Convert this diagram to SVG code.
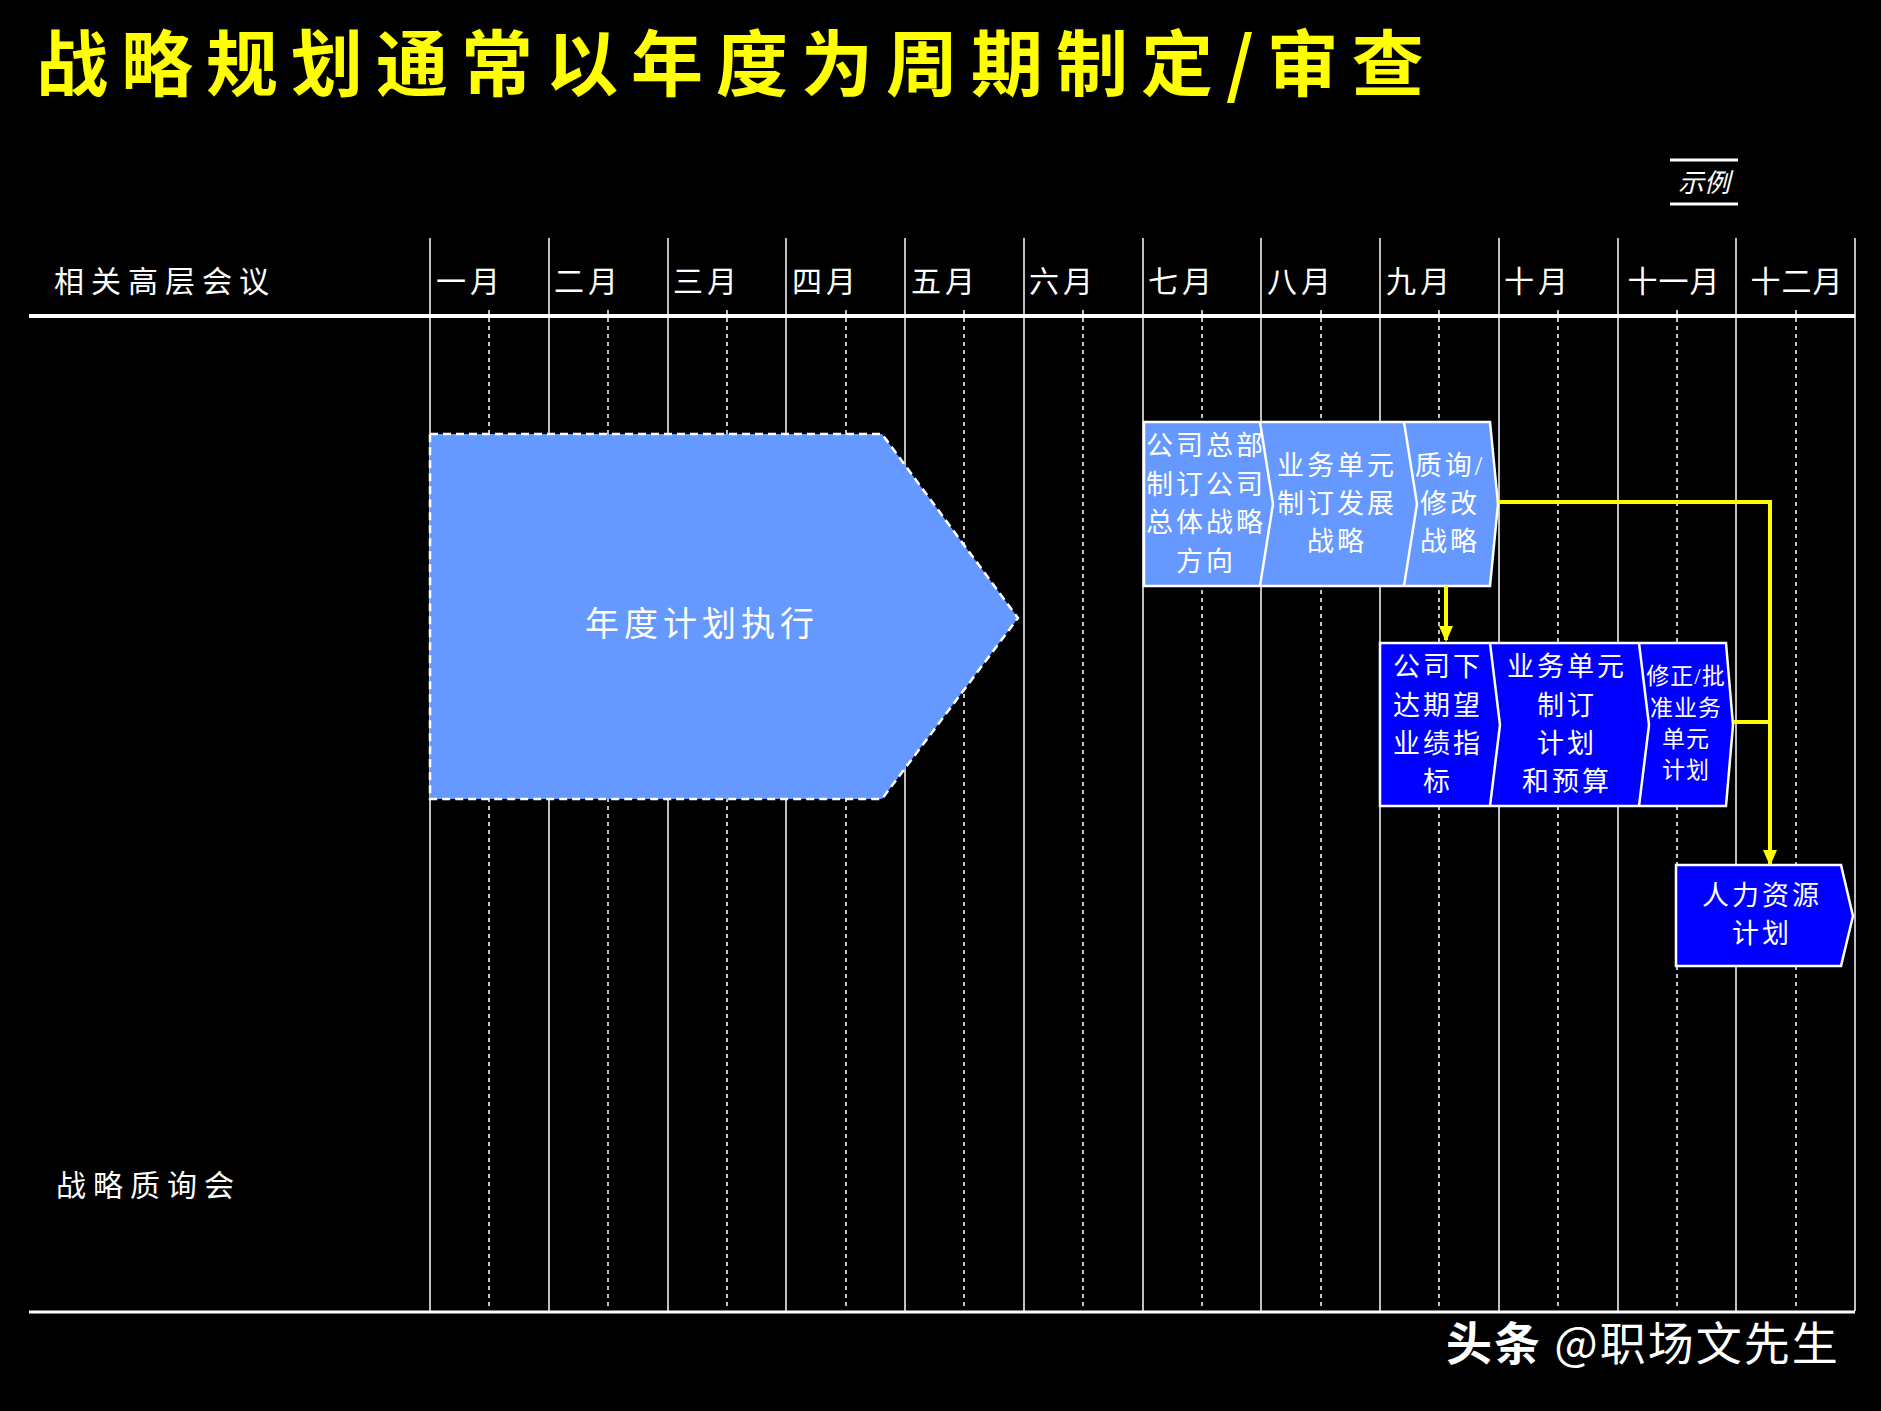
<svg xmlns="http://www.w3.org/2000/svg" width="1881" height="1411" viewBox="0 0 1881 1411">
<defs>
<style>
text{font-family:"Liberation Serif","Noto Sans CJK SC",serif;fill:#fff}
.m{font-size:30px;text-anchor:middle;letter-spacing:4px}
.c{font-size:27px;text-anchor:middle;dominant-baseline:central;letter-spacing:3px}
.s{font-size:23px;text-anchor:middle;dominant-baseline:central;letter-spacing:1px}
.v{stroke:#fff;stroke-width:1.5}
.d{stroke:#fff;stroke-width:1.5;stroke-dasharray:4 4}
.y{stroke:#FFFF00;stroke-width:4;fill:none}
</style>
<marker id="ar" markerWidth="16" markerHeight="16" refX="14" refY="8" orient="auto" markerUnits="userSpaceOnUse" viewBox="0 0 16 16"><path d="M0,1 L16,8 L0,15 z" fill="#FFFF00"/></marker>
</defs>
<rect width="1881" height="1411" fill="#000"/>
<text x="36" y="90" style="font-size:72px;font-weight:bold;fill:#FFFF00;letter-spacing:13px;font-family:'Noto Sans CJK SC',sans-serif">战略规划通常以年度为周期制定/审查</text>
<g id="legend"><line x1="1670" y1="160" x2="1738" y2="160" stroke="#fff" stroke-width="3"/><line x1="1670" y1="204" x2="1738" y2="204" stroke="#fff" stroke-width="3"/><text x="1704" y="192" style="font-size:26px;font-style:italic;text-anchor:middle">示例</text></g>
<g id="grid">
<line class="v" x1="430" y1="238" x2="430" y2="1311"/><line class="v" x1="549" y1="238" x2="549" y2="1311"/><line class="v" x1="668" y1="238" x2="668" y2="1311"/><line class="v" x1="786" y1="238" x2="786" y2="1311"/><line class="v" x1="905" y1="238" x2="905" y2="1311"/><line class="v" x1="1024" y1="238" x2="1024" y2="1311"/><line class="v" x1="1143" y1="238" x2="1143" y2="1311"/><line class="v" x1="1261" y1="238" x2="1261" y2="1311"/><line class="v" x1="1380" y1="238" x2="1380" y2="1311"/><line class="v" x1="1499" y1="238" x2="1499" y2="1311"/><line class="v" x1="1618" y1="238" x2="1618" y2="1311"/><line class="v" x1="1736" y1="238" x2="1736" y2="1311"/><line class="v" x1="1855" y1="238" x2="1855" y2="1311"/>
<line class="d" x1="489" y1="310" x2="489" y2="1310"/><line class="d" x1="608" y1="310" x2="608" y2="1310"/><line class="d" x1="727" y1="310" x2="727" y2="1310"/><line class="d" x1="846" y1="310" x2="846" y2="1310"/><line class="d" x1="964" y1="310" x2="964" y2="1310"/><line class="d" x1="1083" y1="310" x2="1083" y2="1310"/><line class="d" x1="1202" y1="310" x2="1202" y2="1310"/><line class="d" x1="1321" y1="310" x2="1321" y2="1310"/><line class="d" x1="1439" y1="310" x2="1439" y2="1310"/><line class="d" x1="1558" y1="310" x2="1558" y2="1310"/><line class="d" x1="1677" y1="310" x2="1677" y2="1310"/><line class="d" x1="1796" y1="310" x2="1796" y2="1310"/>
<line x1="29" y1="316" x2="1855" y2="316" stroke="#fff" stroke-width="4"/>
<line x1="29" y1="1312" x2="1855" y2="1312" stroke="#fff" stroke-width="3"/>
</g>
<g id="labels">
<text x="54" y="292" style="font-size:30px;letter-spacing:7px">相关高层会议</text>
<text x="56" y="1196" style="font-size:30px;letter-spacing:7px">战略质询会</text>
<text class="m" x="470" y="292">一月</text><text class="m" x="588" y="292">二月</text><text class="m" x="707" y="292">三月</text><text class="m" x="826" y="292">四月</text><text class="m" x="945" y="292">五月</text><text class="m" x="1063" y="292">六月</text><text class="m" x="1182" y="292">七月</text><text class="m" x="1301" y="292">八月</text><text class="m" x="1420" y="292">九月</text><text class="m" x="1538" y="292">十月</text><text class="m" x="1674" y="292" style="letter-spacing:1px">十一月</text><text class="m" x="1797" y="292" style="letter-spacing:1px">十二月</text>
</g>
<g id="annual">
<polygon points="430,434 882,434 1018,618 882,799 430,799" fill="#6699FF" stroke="#fff" stroke-width="2.5" stroke-dasharray="8 5"/>
<text x="702" y="624" style="font-size:34px;text-anchor:middle;dominant-baseline:central;letter-spacing:5px">年度计划执行</text>
</g>
<g id="strategy">
<polygon points="1144,422 1490,422 1498,504 1490,586 1144,586" fill="#6699FF" stroke="#fff" stroke-width="2.5"/>
<polyline points="1260,422 1273,504 1260,586" fill="none" stroke="#fff" stroke-width="2.5"/>
<polyline points="1404,422 1417,504 1404,586" fill="none" stroke="#fff" stroke-width="2.5"/>
<text class="c" x="1206" y="446">公司总部</text><text class="c" x="1206" y="485">制订公司</text><text class="c" x="1206" y="523">总体战略</text><text class="c" x="1206" y="562">方向</text>
<text class="c" x="1337" y="466">业务单元</text><text class="c" x="1337" y="504">制订发展</text><text class="c" x="1337" y="542">战略</text>
<text class="c" x="1450" y="466">质询/</text><text class="c" x="1450" y="504">修改</text><text class="c" x="1450" y="542">战略</text>
</g>
<g id="plan">
<polygon points="1380,643 1726,643 1733,725 1726,806 1380,806" fill="#0000FF" stroke="#fff" stroke-width="2.5"/>
<polyline points="1490,643 1500,725 1490,806" fill="none" stroke="#fff" stroke-width="2.5"/>
<polyline points="1639,643 1649,725 1639,806" fill="none" stroke="#fff" stroke-width="2.5"/>
<text class="c" x="1438" y="667">公司下</text><text class="c" x="1438" y="706">达期望</text><text class="c" x="1438" y="744">业绩指</text><text class="c" x="1438" y="782">标</text>
<text class="c" x="1567" y="667">业务单元</text><text class="c" x="1567" y="706">制订</text><text class="c" x="1567" y="744">计划</text><text class="c" x="1567" y="782">和预算</text>
<text class="s" x="1686" y="676">修正/批</text><text class="s" x="1686" y="708">准业务</text><text class="s" x="1686" y="739">单元</text><text class="s" x="1686" y="770">计划</text>
</g>
<g id="hr">
<polygon points="1676,865 1841,865 1853,916 1841,966 1676,966" fill="#0000FF" stroke="#fff" stroke-width="2.5"/>
<text class="c" x="1762" y="896">人力资源</text><text class="c" x="1762" y="934">计划</text>
</g>
<g id="connectors">
<line class="y" x1="1446" y1="586" x2="1446" y2="640" marker-end="url(#ar)"/>
<polyline class="y" points="1498,502 1770,502 1770,864" marker-end="url(#ar)"/>
<line class="y" x1="1733" y1="722" x2="1770" y2="722"/>
</g>
<text x="1446" y="1360" style="font-size:46px;letter-spacing:2px;font-family:'Noto Sans CJK SC',sans-serif"><tspan font-weight="bold">头条</tspan> @职场文先生</text>
</svg>
